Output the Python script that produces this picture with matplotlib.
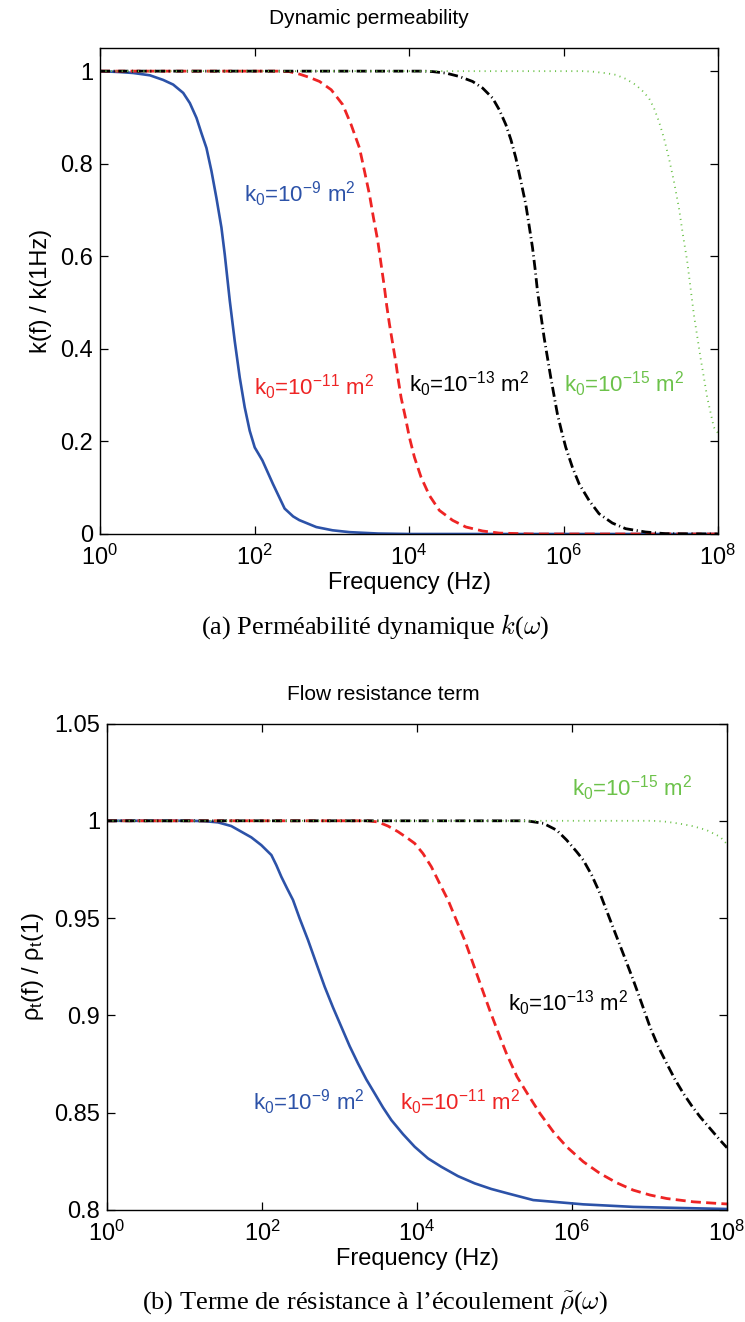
import matplotlib
matplotlib.use("Agg")
import matplotlib.pyplot as plt
import numpy as np
from matplotlib.ticker import FixedLocator, NullLocator, FormatStrFormatter, LogFormatterSciNotation

plt.rcParams['font.family'] = ['Liberation Sans', 'DejaVu Sans']
plt.rcParams['mathtext.fontset'] = 'custom'
plt.rcParams['mathtext.rm'] = 'Liberation Sans'
plt.rcParams['mathtext.it'] = 'Liberation Sans:italic'
plt.rcParams['mathtext.default'] = 'regular'

# ---- data: log10(frequency) and normalised values ----
# (a) dynamic permeability k(f)/k(1Hz)
k9_logf = [0, 0.258, 0.431, 0.646, 0.818, 0.947, 1.077, 1.163, 1.249, 1.313, 1.378, 1.443,
           1.507, 1.572, 1.615, 1.680, 1.744, 1.809, 1.873, 1.938, 2.003, 2.102, 2.239, 2.39,
           2.50, 2.58, 2.80, 3.01, 3.23, 3.6, 4.0, 8.0]
k9_val = [1, 0.998, 0.996, 0.991, 0.981, 0.971, 0.953, 0.931, 0.899, 0.866, 0.834, 0.784,
          0.726, 0.662, 0.604, 0.504, 0.417, 0.338, 0.274, 0.223, 0.187, 0.159, 0.108, 0.055,
          0.038, 0.030, 0.015, 0.008, 0.004, 0.001, 0.0, 0.0]
k11_logf = [0, 2.30, 2.45, 2.584, 2.713, 2.842, 2.993, 3.143, 3.251, 3.359, 3.424, 3.488, 3.540,
            3.596, 3.639, 3.682, 3.712, 3.747, 3.790, 3.833, 3.863, 3.897, 3.953, 4.005, 4.070,
            4.156, 4.264, 4.393, 4.565, 4.737, 4.953, 5.168, 5.6, 8.0]
k11_val = [1, 1.0, 0.999, 0.9935, 0.9864, 0.9777, 0.9598, 0.9274, 0.8843, 0.834, 0.7838, 0.7335,
           0.6832, 0.633, 0.5826, 0.5323, 0.4928, 0.4533, 0.4102, 0.3671, 0.3312, 0.2953,
           0.2522, 0.209, 0.166, 0.1228, 0.0833, 0.051, 0.0295, 0.0151, 0.0065, 0.002, 0.0, 0.0]
k13_logf = [0, 4.20, 4.307, 4.479, 4.651, 4.823, 4.953, 5.082, 5.168, 5.254, 5.319, 5.383,
            5.448, 5.512, 5.556, 5.599, 5.633, 5.663, 5.706, 5.749, 5.792, 5.835, 5.878, 5.921,
            5.973, 6.029, 6.115, 6.202, 6.331, 6.460, 6.632, 6.804, 7.063, 7.321, 8.0]
k13_val = [1, 1.0, 0.999, 0.9957, 0.9885, 0.9777, 0.9634, 0.9418, 0.9167, 0.8843, 0.852, 0.8125,
           0.7622, 0.7119, 0.6652, 0.6185, 0.5718, 0.5251, 0.4748, 0.4245, 0.3814, 0.3383,
           0.2988, 0.2593, 0.2234, 0.1874, 0.1443, 0.1084, 0.0725, 0.0438, 0.0237, 0.0115,
           0.0043, 0.0007, 0.0]
k15_logf = [0, 6.25, 6.373, 6.546, 6.675, 6.804, 6.934, 7.020, 7.106, 7.171, 7.235, 7.300, 7.364,
            7.429, 7.494, 7.545, 7.601, 7.644, 7.687, 7.730, 7.773, 7.817, 7.860, 7.903, 7.946, 8.0]
k15_val = [1, 1.0, 0.999, 0.9957, 0.9921, 0.9835, 0.9705, 0.9576, 0.9418, 0.9203, 0.8915, 0.8556,
           0.8125, 0.7622, 0.7047, 0.6473, 0.5898, 0.5323, 0.4748, 0.4282, 0.3815, 0.3383,
           0.2953, 0.2629, 0.2306, 0.218]

# (b) flow resistance term rho_t(f)/rho_t(1)
r9_logf = [0, 1.088, 1.260, 1.432, 1.604, 1.733, 1.862, 1.991, 2.121, 2.185, 2.250, 2.323, 2.400,
           2.486, 2.594, 2.701, 2.809, 2.916, 3.024, 3.131, 3.239, 3.346, 3.454, 3.561, 3.669,
           3.819, 3.970, 4.142, 4.314, 4.529, 4.744, 4.959, 5.174, 5.50, 6.146, 6.79, 7.436,
           7.91, 8.0]
r9_val = [1, 1.0, 0.9998, 0.9992, 0.9973, 0.9944, 0.9915, 0.9875, 0.9824, 0.9772, 0.9712,
          0.9653, 0.9593, 0.9498, 0.9387, 0.9267, 0.9147, 0.9041, 0.8941, 0.8842, 0.8753,
          0.8671, 0.8599, 0.8527, 0.8462, 0.8390, 0.8325, 0.8265, 0.8222, 0.8174, 0.8137,
          0.8108, 0.8085, 0.8051, 0.8029, 0.8016, 0.8010, 0.8006, 0.8005]
r11_logf = [0, 3.367, 3.497, 3.626, 3.755, 3.884, 3.970, 4.077, 4.185, 4.292, 4.400, 4.507,
            4.615, 4.723, 4.830, 4.938, 5.045, 5.153, 5.290, 5.437, 5.587, 5.759, 5.931, 6.146,
            6.361, 6.576, 6.791, 7.006, 7.222, 7.566, 7.910, 8.0]
r11_val = [1, 1.0, 0.9994, 0.9973, 0.9944, 0.9909, 0.9884, 0.9832, 0.9764, 0.9678, 0.9593,
           0.9490, 0.9387, 0.9267, 0.9147, 0.9027, 0.8915, 0.8805, 0.8685, 0.8590, 0.8496,
           0.8402, 0.8325, 0.8248, 0.8188, 0.8140, 0.8102, 0.8077, 0.8059, 0.8042, 0.8033,
           0.8031]
r13_logf = [0, 5.415, 5.630, 5.802, 5.931, 6.060, 6.146, 6.254, 6.361, 6.469, 6.576, 6.684,
            6.791, 6.899, 7.006, 7.114, 7.222, 7.329, 7.437, 7.544, 7.652, 7.781, 7.910, 8.0]
r13_val = [1, 1.0, 0.9987, 0.9952, 0.9901, 0.9841, 0.9798, 0.9721, 0.9627, 0.9515, 0.9404,
           0.9293, 0.9181, 0.9062, 0.8941, 0.8839, 0.8753, 0.8671, 0.8599, 0.8536, 0.8479,
           0.8419, 0.8359, 0.832]
r15_logf = [0, 7.05, 7.222, 7.394, 7.566, 7.738, 7.910, 8.0]
r15_val = [1, 1.0, 0.9995, 0.9985, 0.9972, 0.9952, 0.9918, 0.988]

labels = [r'k$_0$=10$^{-9}$ m$^2$', r'k$_0$=10$^{-11}$ m$^2$',
          r'k$_0$=10$^{-13}$ m$^2$', r'k$_0$=10$^{-15}$ m$^2$']
top_label_pos = [(10**1.87, 0.735), (10**2.0, 0.317), (10**4.0, 0.324), (10**6.01, 0.324)]
bot_label_pos = [(10**1.89, 0.8556), (10**3.78, 0.8556), (10**5.18, 0.9063), (10**6.0, 1.0168)]

blue = '#2c52a8'
red = '#ee2424'
green = '#6cc24a'
colors = [blue, red, 'black', green]
styles = [dict(ls='-', lw=1.9),
          dict(ls=(0, (3.6, 1.9)), lw=2.0),
          dict(ls=(0, (3.6, 1.3, 0.4, 1.3)), lw=2.0),
          dict(ls=(0, (0.6, 2.4)), lw=1.3)]

fig = plt.figure(figsize=(7.45, 13.22), dpi=100)
ax1 = fig.add_axes([100 / 745, 1 - 534 / 1322, 618 / 745, 486 / 1322])
ax2 = fig.add_axes([107 / 745, 1 - 1210 / 1322, 620 / 745, 486.5 / 1322])


def style_axes(ax):
    ax.set_xscale('log')
    ax.set_xlim(1, 1e8)
    ax.xaxis.set_major_locator(FixedLocator([1e0, 1e2, 1e4, 1e6, 1e8]))
    ax.xaxis.set_major_formatter(LogFormatterSciNotation())
    ax.xaxis.set_minor_locator(NullLocator())
    ax.yaxis.set_minor_locator(NullLocator())
    ax.tick_params(direction='in', top=True, right=True, length=6, width=0.9, labelsize=17)
    ax.tick_params(axis='x', pad=8)
    ax.tick_params(axis='y', pad=5)
    for s in ax.spines.values():
        s.set_linewidth(1.0)
    ax.set_xlabel('Frequency (Hz)', fontsize=17, labelpad=1)


# top panel
series_top = [(k9_logf, k9_val), (k11_logf, k11_val), (k13_logf, k13_val), (k15_logf, k15_val)]
for (lf, v), c, st in zip(series_top, colors, styles):
    ax1.plot(10.0 ** np.array(lf), v, color=c, **st)
style_axes(ax1)
ax1.set_ylim(0, 1.05)
ax1.set_yticks([0, 0.2, 0.4, 0.6, 0.8, 1])
ax1.yaxis.set_major_formatter(FormatStrFormatter('%g'))
ax1.set_ylabel('k(f) / k(1Hz)', fontsize=17, labelpad=6)
for t, (x, y), c in zip(labels, top_label_pos, colors):
    ax1.text(x, y, t, color=c, fontsize=16, ha='left', va='center')

# bottom panel
series_bot = [(r9_logf, r9_val), (r11_logf, r11_val), (r13_logf, r13_val), (r15_logf, r15_val)]
for (lf, v), c, st in zip(series_bot, colors, styles):
    ax2.plot(10.0 ** np.array(lf), v, color=c, **st)
style_axes(ax2)
ax2.set_ylim(0.8, 1.05)
ax2.set_yticks([0.8, 0.85, 0.9, 0.95, 1, 1.05])
ax2.yaxis.set_major_formatter(FormatStrFormatter('%g'))
ax2.set_ylabel(r'$\rho_t$(f) / $\rho_t$(1)', fontsize=17, labelpad=6)
for t, (x, y), c in zip(labels, bot_label_pos, colors):
    ax2.text(x, y, t, color=c, fontsize=16, ha='left', va='center')

# titles and captions
fig.text(369 / 745, 1 - 18 / 1322, 'Dynamic permeability', fontsize=15, ha='center', va='center')
fig.text(383 / 745, 1 - 695 / 1322, 'Flow resistance term', fontsize=15, ha='center', va='center')
fig.text(375 / 745, 1 - 627 / 1322, r'(a) Perméabilité dynamique $\mathit{k}(\mathit{\omega})$',
         fontsize=19, ha='center', va='center', family='Liberation Serif', math_fontfamily='cm')
fig.text(375 / 745, 1 - 1303 / 1322,
         r"(b) Terme de résistance à l’écoulement $\mathit{\tilde{\rho}}(\mathit{\omega})$",
         fontsize=19, ha='center', va='center', family='Liberation Serif', math_fontfamily='cm')

fig.savefig('out.png', dpi=100)
